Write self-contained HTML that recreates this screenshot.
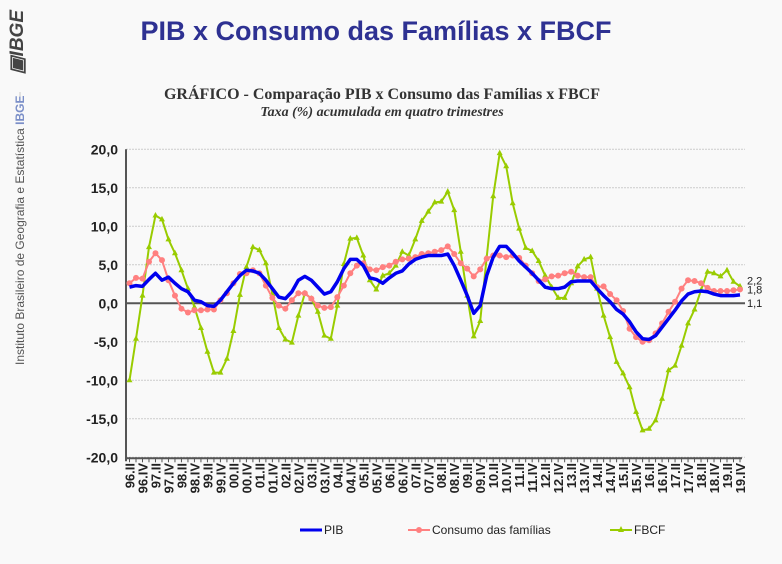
<!DOCTYPE html>
<html><head><meta charset="utf-8"><style>
body{margin:0;background:#f9f9f9;width:782px;height:559px;overflow:hidden;font-family:"Liberation Sans",sans-serif}
</style></head><body>
<svg id="c" width="782" height="559" xmlns="http://www.w3.org/2000/svg">
<rect width="782" height="559" fill="#f9f9f9"/>
<text x="23" y="10" font-size="19" font-weight="bold" font-style="italic" fill="#444" transform="rotate(-90 23 10)" text-anchor="end">▣IBGE</text>
<line x1="20" y1="92" x2="20" y2="102" stroke="#ccc"/>
<text x="24" y="365" font-size="12" fill="#555" transform="rotate(-90 24 365)">Instituto Brasileiro de Geografia e Estatística <tspan fill="#7b8fc8" font-weight="bold">IBGE</tspan></text>
<text x="376" y="40" font-size="27" font-weight="bold" fill="#2e3192" text-anchor="middle">PIB x Consumo das Famílias x FBCF</text>
<text x="382" y="99" font-size="16" font-weight="bold" fill="#333" text-anchor="middle" font-family="Liberation Serif, serif">GRÁFICO - Comparação PIB x Consumo das Famílias x FBCF</text>
<text x="382" y="116" font-size="14" font-weight="bold" font-style="italic" fill="#333" text-anchor="middle" font-family="Liberation Serif, serif">Taxa (%) acumulada em quatro trimestres</text>
<g id="g"></g>
</svg>
<script>
const yTicks=[20,15,10,5,0,-5,-10,-15,-20];
const pib=[2.1,2.3,2.2,3.1,3.9,3.0,3.4,2.6,1.9,1.5,0.4,0.2,-0.3,-0.4,0.4,1.5,2.6,3.6,4.3,4.2,3.9,3.0,1.9,0.8,0.6,1.5,3.0,3.5,3.0,2.1,1.2,1.5,2.8,4.5,5.7,5.7,4.9,3.3,3.1,2.6,3.3,3.9,4.2,5.1,5.7,6.0,6.2,6.2,6.2,6.4,4.9,3.0,1.0,-1.3,-0.3,3.6,6.0,7.4,7.4,6.5,5.5,4.7,3.9,3.0,2.1,1.9,1.9,2.1,2.8,2.9,2.9,2.9,1.9,1.0,0.2,-0.8,-1.4,-2.4,-3.7,-4.6,-4.7,-4.2,-3.1,-2.0,-0.9,0.3,1.2,1.5,1.6,1.5,1.2,1.0,1.0,1.0,1.1];
const consumo=[2.6,3.3,3.2,5.4,6.5,5.6,3.0,1.0,-0.7,-1.2,-0.9,-0.9,-0.8,-0.8,0.4,1.3,2.6,3.8,3.9,4.3,3.9,2.3,0.7,-0.3,-0.7,0.4,1.3,1.3,0.6,-0.3,-0.6,-0.5,0.8,2.3,3.9,4.9,5.2,4.4,4.3,4.7,4.9,5.4,5.7,5.8,6.0,6.4,6.5,6.7,6.9,7.4,6.4,5.2,4.5,3.5,4.4,5.8,6.2,6.2,6.0,6.2,5.9,4.9,3.9,2.9,3.1,3.5,3.6,3.9,4.1,3.6,3.4,3.4,2.1,2.2,1.2,0.4,-1.0,-3.3,-4.4,-5.0,-4.8,-3.9,-2.6,-1.1,0.2,1.9,3.0,2.9,2.6,2.0,1.6,1.6,1.6,1.7,1.8];
const fbcf=[-10,-4.6,1.0,7.3,11.4,10.9,8.3,6.5,4.3,1.9,-0.5,-3.2,-6.3,-9.0,-9.0,-7.2,-3.6,1.1,4.7,7.3,6.9,5.2,1.2,-3.2,-4.7,-5.1,-1.6,1.3,0.6,-1.1,-4.2,-4.6,-0.3,5.1,8.4,8.5,6.2,3.0,1.8,3.6,3.9,4.9,6.7,6.2,8.3,10.7,11.9,13.1,13.2,14.5,12.1,6.7,1.0,-4.3,-2.3,6.0,13.9,19.5,17.8,13.0,9.7,7.2,6.8,5.5,3.6,2.1,0.7,0.7,2.6,4.8,5.7,6.0,1.9,-1.6,-4.4,-7.6,-9.1,-10.9,-14.1,-16.5,-16.3,-15.2,-12.4,-8.7,-8.1,-5.5,-2.6,-0.8,1.7,4.1,3.9,3.5,4.3,2.8,2.2];
const romans=["I","II","III","IV"];
const NS="http://www.w3.org/2000/svg";
const g=document.getElementById('g');
const X0=129.5,X1=740,Y20=149.3,Ym20=457.3;
function xs(i){return X0+(X1-X0)*i/(pib.length-1);}
function ys(v){return Y20+(20-v)*(Ym20-Y20)/40;}
function el(t,a){const e=document.createElementNS(NS,t);for(const k in a)e.setAttribute(k,a[k]);g.appendChild(e);return e;}
yTicks.forEach(v=>{
  const l=el('line',{x1:126,x2:745,y1:ys(v),y2:ys(v),stroke:v===0?'#555':'#ccc','stroke-width':v===0?2:1,'stroke-dasharray':v===0?'':'2,1'});
  
  
  const t=el('text',{x:118,y:ys(v)+5,'font-size':14,'font-weight':'bold','text-anchor':'end',fill:'#222'});
  t.textContent=v.toFixed(1).replace('.',',');
  
  
});
const ax=el('line',{x1:126,x2:126,y1:Y20,y2:Ym20+4,stroke:'#555','stroke-width':2});


const bx=el('line',{x1:126,x2:742,y1:Ym20+1,y2:Ym20+1,stroke:'#555','stroke-width':2});


pib.forEach((_,i)=>{
  const tk=el('line',{x1:xs(i),x2:xs(i),y1:Ym20,y2:Ym20+5,stroke:'#555'});
  
  
  if(i%2===0){
    const q=(1+i)%4, yr=(96+Math.floor((1+i)/4))%100;
    const t=el('text',{x:0,y:0,'font-size':13,'font-weight':'bold','text-anchor':'end',fill:'#222',transform:`translate(${xs(i)+5},463) rotate(-90)`});
    t.textContent=String(yr).padStart(2,'0')+'.'+romans[q];
    
    
  }
});
function series(arr,col,w,name,marker){
  const p=el('polyline',{points:arr.map((v,i)=>xs(i)+','+ys(v)).join(' '),fill:'none',stroke:col,'stroke-width':w,'stroke-linejoin':'round'});
  
  
  if(marker) arr.forEach((v,i)=>{
    let m;
    if(marker==='c') m=el('circle',{cx:xs(i),cy:ys(v),r:3,fill:col});
    else m=el('polygon',{points:`${xs(i)},${ys(v)-3.5} ${xs(i)-3},${ys(v)+2} ${xs(i)+3},${ys(v)+2}`,fill:col});
    
    
  });
}
series(fbcf,'#99cc00',2,'fbcf','t');
series(consumo,'#ff8080',2,'consumo','c');
series(pib,'#0000ee',3.5,'pib',null);
[[fbcf,-6],[consumo,0],[pib,8]].forEach(([a,dy])=>{
  const v=a[a.length-1];
  const t=el('text',{x:747,y:ys(v)+4+dy,'font-size':11,fill:'#222'});
  t.textContent=v.toFixed(1).replace('.',',');
  
  
});
const leg=[[300,'#0000ee','PIB',null],[408,'#ff8080','Consumo das famílias','c'],[610,'#99cc00','FBCF','t']];
leg.forEach(([x,c,txt,m])=>{
  const l=el('line',{x1:x,x2:x+22,y1:530,y2:530,stroke:c,'stroke-width':m?2:3});
  
  
  if(m==='c') el('circle',{cx:x+11,cy:530,r:3,fill:c});
  if(m==='t') el('polygon',{points:`${x+11},526 ${x+8},532 ${x+14},532`,fill:c});
  const t=el('text',{x:x+24,y:534,'font-size':12,fill:'#222'});
  t.textContent=txt;
  
  
});
</script>
</body></html>
